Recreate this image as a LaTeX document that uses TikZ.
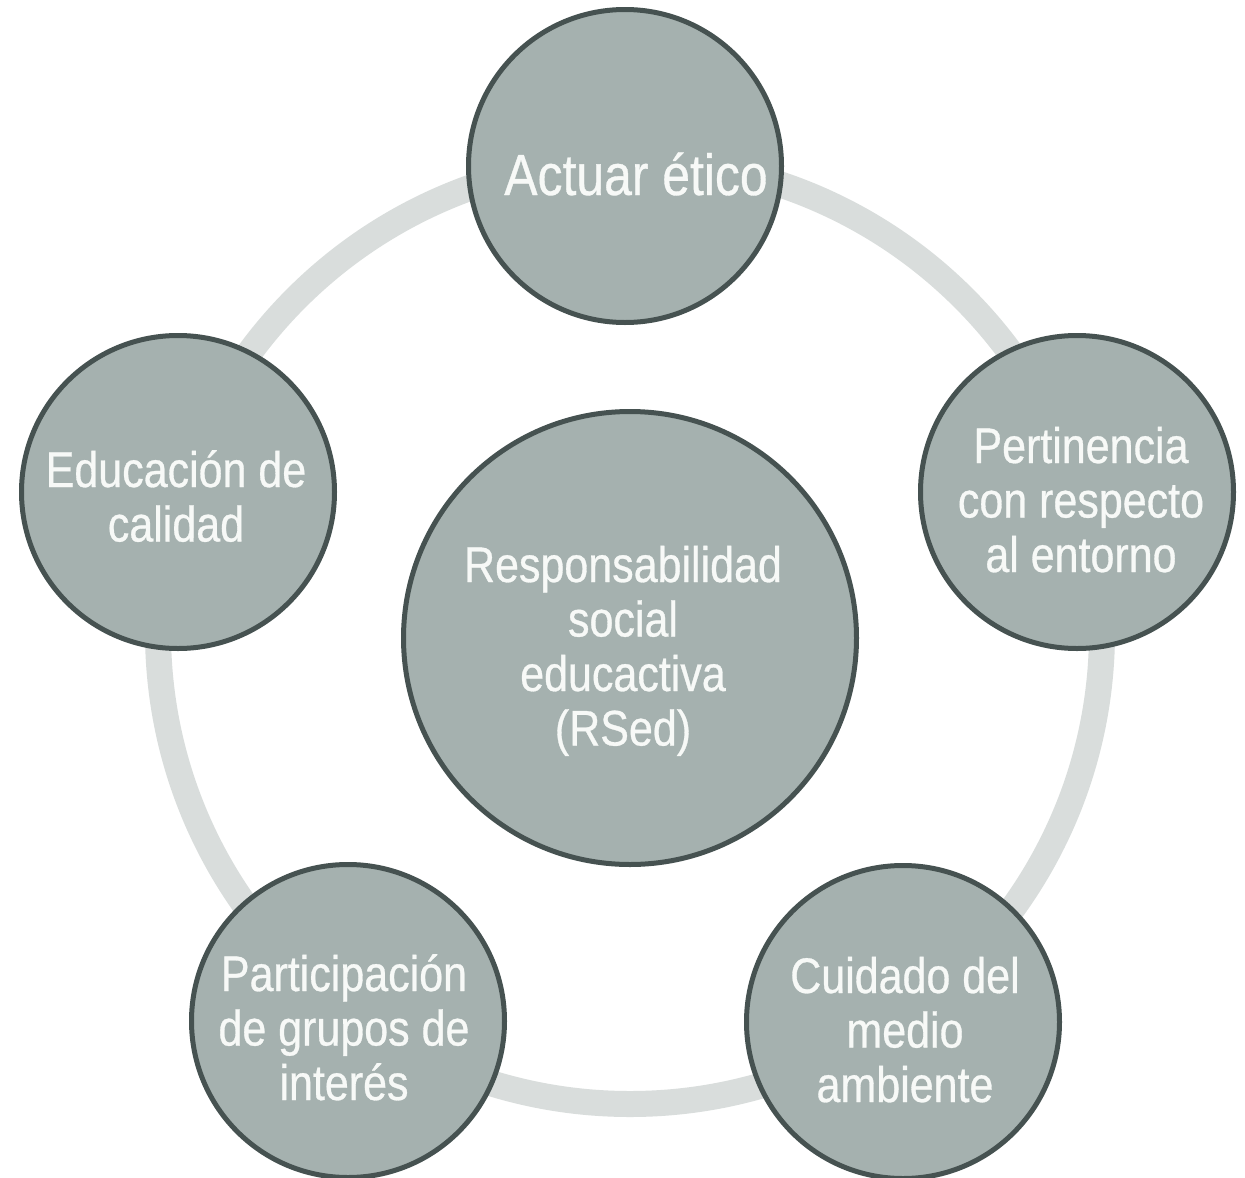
\documentclass[tikz,border=0pt]{standalone}
\usepackage{fontspec}
\newfontfamily\lblfont[FakeStretch=0.86,FakeBold=0.6]{Liberation Sans}
\definecolor{fillcol}{HTML}{A5B1AF}
\definecolor{bordercol}{HTML}{465251}
\definecolor{ringcol}{HTML}{D9DDDC}
\definecolor{txtcol}{HTML}{F7F9F7}
\begin{document}
\begin{tikzpicture}[x=1pt,y=-1pt,
  ringstyle/.style={circle, draw=ringcol, line width=26pt, minimum size=944pt, inner sep=0pt},
  bubble/.style={circle, draw=bordercol, line width=5pt, fill=fillcol, minimum size=313pt, inner sep=0pt},
  bigbubble/.style={bubble, minimum size=453pt},
  lbl/.style={text=txtcol, inner sep=0pt, anchor=base, font=\lblfont\fontsize{50}{54.5}\selectfont},
  toplbl/.style={lbl, font=\lblfont\fontsize{58}{60}\selectfont}]
\fill[white] (0,0) rectangle (1245,1178);
\useasboundingbox (0,0) rectangle (1245,1178);
% outer ring
\node[ringstyle] (ring) at (630,632) {};
% circles
\node[bubble] (top) at (625,166) {};
\node[bubble] (right) at (1077,492) {};
\node[bubble] (left) at (178,492) {};
\node[bubble] (bl) at (348,1021) {};
\node[bubble] (br) at (903,1022) {};
\node[bigbubble] (center) at (630,638) {};
% labels
\node[toplbl] (ttop) at (636,195) {Actuar ético};
\node[lbl] (tleft) at (176,487) {\begin{tabular}[t]{@{}c@{}}Educación de\\calidad\end{tabular}};
\node[lbl] (tright) at (1081,463) {\begin{tabular}[t]{@{}c@{}}Pertinencia\\con respecto\\al entorno\end{tabular}};
\node[lbl] (tcenter) at (623,582) {\begin{tabular}[t]{@{}c@{}}Responsabilidad\\social\\educactiva\\(RSed)\end{tabular}};
\node[lbl] (tbl) at (344,991) {\begin{tabular}[t]{@{}c@{}}Participación\\de grupos de\\interés\end{tabular}};
\node[lbl] (tbr) at (905,993) {\begin{tabular}[t]{@{}c@{}}Cuidado del\\medio\\ambiente\end{tabular}};
\end{tikzpicture}
\end{document}
